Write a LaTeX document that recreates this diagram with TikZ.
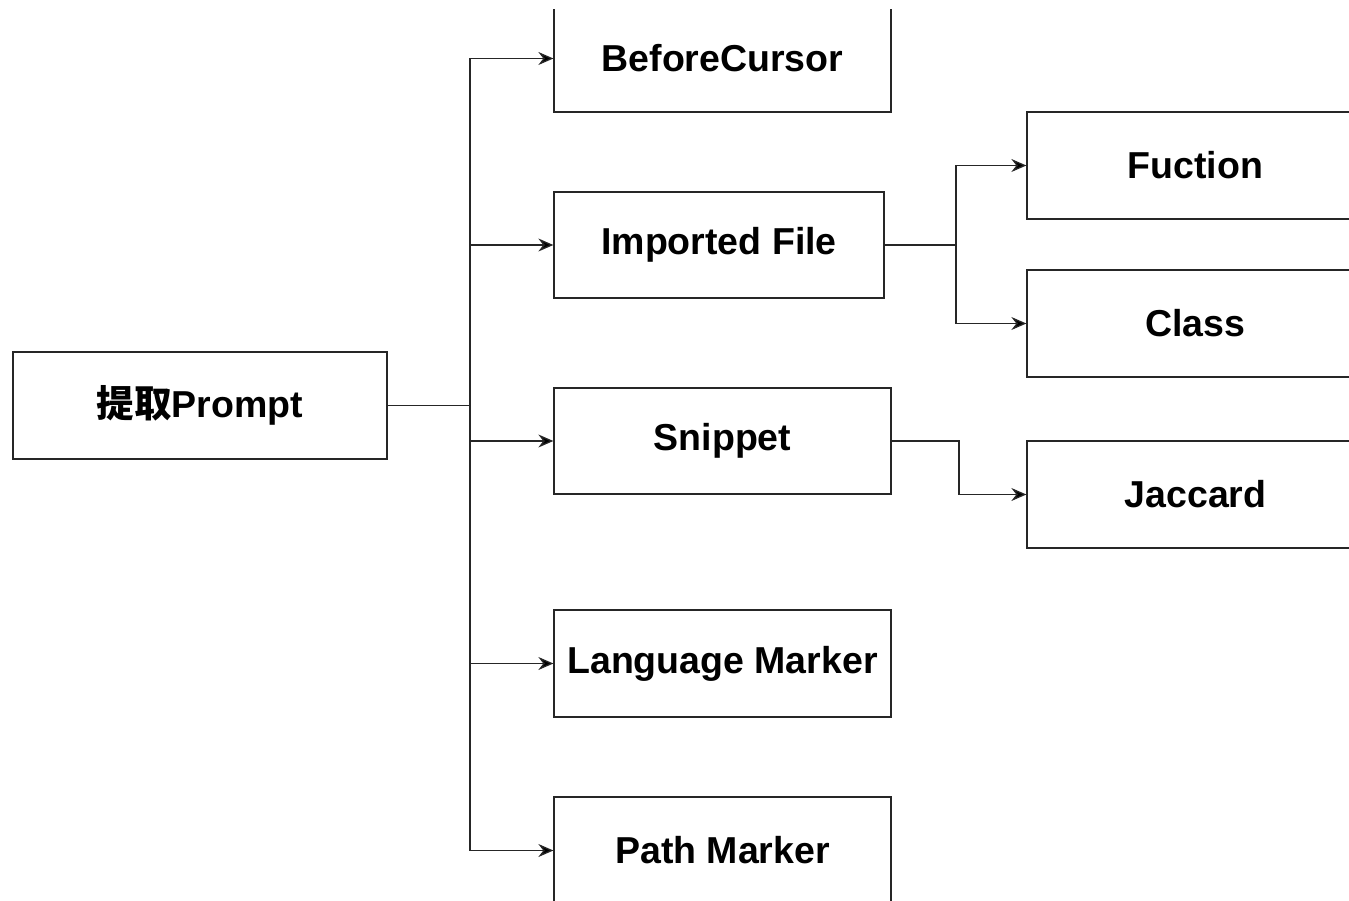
\documentclass[tikz,border=0pt]{standalone}
\usepackage{fontspec}
\setmainfont{Liberation Sans}
\newfontfamily\cjk{Noto Sans CJK SC}
\usetikzlibrary{arrows.meta}
\tikzset{
  box/.style={draw=black!85, line width=1.3pt, rectangle, inner sep=0pt,
    font=\fontsize{37.5}{42}\selectfont\bfseries, text=black},
  link/.style={draw=black!85, line width=1.3pt},
  arr/.style={link, -{Stealth[length=15pt,width=13pt,inset=5pt,fill=black]}},
}
\begin{document}
\begin{tikzpicture}[x=1pt,y=-1pt]
\useasboundingbox (0,0) rectangle (1349,901);
\clip (0,10) rectangle (1349,901);

% root
\node[box, minimum width=374pt, minimum height=107pt] (prompt) at (200,405.5)
  {{\cjk\bfseries 提取}Prompt};

% first level
\node[box, minimum width=337pt, minimum height=107pt] (before)   at (722.5,58.5)  {BeforeCursor};
\node[box, minimum width=330pt, minimum height=106pt] (imported) at (719,245)     {Imported File};
\node[box, minimum width=337pt, minimum height=106pt] (snippet)  at (722.5,441)   {Snippet};
\node[box, minimum width=337pt, minimum height=107pt] (lang)     at (722.5,663.5) {Language Marker};
\node[box, minimum width=337pt, minimum height=107pt] (pathm)    at (722.5,850.5) {Path Marker};

% second level
\node[box, minimum width=337pt, minimum height=107pt] (fuction) at (1195.5,165.5) {Fuction};
\node[box, minimum width=337pt, minimum height=107pt] (class)   at (1195.5,323.5) {Class};
\node[box, minimum width=337pt, minimum height=107pt] (jaccard) at (1195.5,494.5) {Jaccard};

% trunk from the root
\coordinate (trunk) at (470,405.5);
\draw[link] (prompt.east) -- (trunk);
\foreach \n in {before,imported,snippet,lang,pathm}
  \draw[arr] (trunk) |- (\n.west);

% imported file branches
\coordinate (ij) at (956,245);
\draw[link] (imported.east) -- (ij);
\draw[arr] (ij) |- (fuction.west);
\draw[arr] (ij) |- (class.west);

% snippet branch
\coordinate (sj) at (959,441);
\draw[arr] (snippet.east) -- (sj) |- (jaccard.west);
\end{tikzpicture}
\end{document}
